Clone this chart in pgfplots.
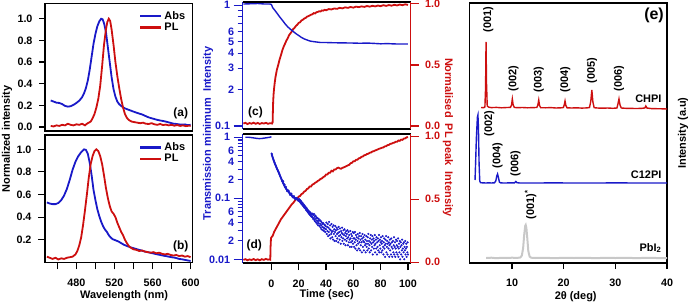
\documentclass[border=0pt]{standalone}
\usepackage{fontspec}
\setmainfont{Liberation Sans}
\usepackage{pgfplots}
\pgfplotsset{compat=1.18}
\definecolor{cb}{RGB}{25,25,200}
\definecolor{cr}{RGB}{205,15,15}
\definecolor{cg}{RGB}{200,200,200}
\newcommand\tf{\bfseries\fontsize{10.8}{12}\selectfont}
\newcommand\lf{\bfseries\fontsize{11}{13}\selectfont}
\pgfplotsset{
  every axis/.append style={
    scale only axis, anchor=south west, clip=false,
    /pgf/number format/assume math mode=true,
    tick label style={font=\tf},
    xticklabel style={yshift=-6bp},
    tick align=outside,
    major tick length=6bp, minor tick length=4bp,
    tick style={line width=1.1bp, black},
    axis line style={line width=1.5bp},
  },
  leg/.style={legend style={draw=none, fill=none, at={(0.965,0.955)}, anchor=north east,
     font=\lf, row sep=-2bp, inner sep=0pt}, legend cell align=left,
  legend image code/.code={\draw[##1, line width=2.4bp] (0bp,0bp) -- (21bp,0bp);}},
}
\begin{document}
\begin{tikzpicture}[x=1bp,y=1bp]
% ---------------- (a)
\begin{axis}[leg, at={(45bp,173bp)}, width=147.5bp, height=127.4bp,
  xmin=447, xmax=602, ymin=-0.037, ymax=1.14, xtick=\empty,
  ytick={0,0.2,0.4,0.6,0.8,1}, yticklabels={0.0,0.2,0.4,0.6,0.8,1.0}, ytick pos=left,
  yticklabel style={xshift=-3bp}]
\addplot[cb, line width=1.8bp] coordinates {
(453,0.245) (456,0.235) (459,0.225) (462,0.222) (465,0.212) (468,0.195) (471,0.188) (474,0.192)
(477,0.205) (480,0.222) (483,0.243) (486,0.275) (488,0.31) (490,0.36) (492,0.43) (494,0.53)
(496,0.65) (498,0.77) (500,0.86) (502,0.93) (504,0.975) (506,1.0) (507.5,0.995) (509,0.96)
(511,0.88) (513,0.74) (515,0.6) (517,0.46) (519,0.35) (521,0.28) (523,0.235) (525,0.21)
(527,0.195) (529,0.182) (531,0.172) (534,0.162) (537,0.152) (540,0.142) (543,0.133) (546,0.124)
(549,0.116) (552,0.104) (555,0.092) (558,0.083) (561,0.076) (564,0.068) (567,0.062) (570,0.057)
(573,0.052) (576,0.045) (579,0.038) (582,0.031) (585,0.028) (588,0.024) (591,0.023) (594,0.024)
(597,0.017) (600,0.02)};
\addlegendentry{Abs}
\addplot[cr, line width=1.8bp] coordinates {
(453,0.01) (456,0.005) (459,0.015) (462,0.01) (465,0.02) (468,0.015) (471,0.03) (474,0.02)
(477,0.015) (480,0.025) (483,0.02) (486,0.03) (489,0.015) (491,0.03) (493,0.04) (495,0.05)
(497,0.08) (499,0.12) (501,0.18) (503,0.26) (505,0.38) (507,0.56) (509,0.76) (511,0.9)
(512.5,0.97) (514,1.0) (515.5,0.98) (517,0.9) (519,0.76) (521,0.6) (523,0.47) (525,0.36)
(527,0.26) (529,0.18) (531,0.12) (533,0.085) (535,0.065) (538,0.05) (541,0.045) (544,0.04)
(547,0.035) (550,0.04) (553,0.03) (556,0.028) (559,0.035) (562,0.025) (565,0.02) (568,0.028)
(571,0.018) (574,0.022) (577,0.015) (580,0.02) (583,0.012) (586,0.018) (589,0.01) (592,0.015)
(595,0.008) (598,0.012) (600,0.01)};
\addlegendentry{PL}
\end{axis}
% ---------------- (b)
\begin{axis}[leg, at={(45bp,41.7bp)}, width=147.5bp, height=127.3bp,
  xmin=447, xmax=602, ymin=0, ymax=1.127,
  xtick={480,520,560,600}, minor xtick={460,500,540,580}, xtick pos=bottom,
  major tick length=7bp, minor tick length=7bp,
  ytick={0.2,0.4,0.6,0.8,1}, yticklabels={0.2,0.4,0.6,0.8,1.0}, ytick pos=left,
  yticklabel style={xshift=-3bp}]
\addplot[cb, line width=1.8bp] coordinates {
(449,0.53) (452,0.52) (455,0.515) (458,0.515) (461,0.525) (464,0.55) (467,0.59) (470,0.65)
(473,0.73) (476,0.82) (479,0.89) (482,0.94) (485,0.975) (488,1.0) (490,0.995) (492,0.96)
(494,0.88) (496,0.77) (498,0.64) (500,0.55) (502,0.47) (504,0.41) (506,0.36) (508,0.32)
(510,0.29) (512,0.27) (514,0.24) (516,0.22) (518,0.205) (521,0.195) (524,0.185) (527,0.17)
(530,0.155) (533,0.145) (536,0.135) (540,0.125) (544,0.115) (548,0.105) (552,0.095) (556,0.088)
(560,0.08) (564,0.072) (568,0.065) (572,0.058) (576,0.052) (580,0.045) (584,0.04) (588,0.03)
(592,0.025) (596,0.018) (600,0.012)};
\addlegendentry{Abs}
\addplot[cr, line width=1.8bp] coordinates {
(449,0.05) (452,0.04) (455,0.03) (458,0.04) (461,0.025) (464,0.035) (467,0.03) (470,0.04)
(473,0.045) (476,0.05) (479,0.07) (481,0.1) (483,0.15) (485,0.22) (487,0.33) (489,0.46)
(491,0.6) (493,0.75) (495,0.87) (497,0.94) (499,0.985) (501,1.0) (503,0.985) (505,0.94)
(507,0.87) (509,0.77) (511,0.66) (513,0.57) (515,0.5) (517,0.45) (519,0.43) (521,0.4)
(523,0.35) (525,0.31) (527,0.27) (529,0.24) (531,0.2) (533,0.17) (535,0.145) (537,0.13)
(540,0.115) (543,0.11) (546,0.1) (549,0.105) (552,0.095) (555,0.09) (558,0.085) (561,0.09)
(564,0.08) (567,0.085) (570,0.075) (573,0.07) (576,0.075) (579,0.065) (582,0.06) (585,0.065)
(588,0.055) (591,0.06) (594,0.05) (597,0.055) (600,0.045)};
\addlegendentry{PL}
\end{axis}
\node[font=\lf, rotate=90] at (7,165) {Normalized intensity};
\node[font=\lf] at (124,8.3) {Wavelength (nm)};
\node[font=\bfseries\fontsize{12}{14}\selectfont] at (180.7,190.7) {(a)};
\node[font=\bfseries\fontsize{12}{14}\selectfont] at (180.7,57.3) {(b)};
% ---------------- (c) right linear (red, drawn first)
\begin{axis}[name=c2, at={(242.7bp,175bp)}, width=168bp, height=127bp,
  xmin=-21, xmax=102, ymin=-0.0246, ymax=1.016, axis line style={draw=none},
  xtick=\empty, ytick={0,0.5,1}, yticklabels={0.0,0.5,1.0}, ytick pos=right,
  yticklabel style={xshift=3bp},
  major tick length=8bp, tick style={cr, line width=1.1bp}, tick label style={font=\tf, text=cr}]
\addplot[cr, line width=1.8bp] coordinates {
(-20.5,0.02) (-19,0.026) (-17.5,0.016) (-16,0.024) (-14.5,0.019) (-13,0.027) (-11.5,0.018)
(-10,0.025) (-8.5,0.017) (-7,0.024) (-5.5,0.02) (-4,0.026) (-2.5,0.018) (-1,0.023) (0.5,0.02)
(0.9,0.03) (1.1,0.12) (1.3,0.2) (1.6,0.26) (2,0.31) (2.5,0.36) (3,0.4) (3.5,0.43) (4,0.46)
(5,0.5) (6,0.545) (7,0.58) (8,0.62) (9,0.65) (10,0.675) (11,0.7) (12,0.72) (13,0.745) (14,0.76)
(15,0.775) (16,0.795) (17,0.805) (18,0.82) (19,0.83) (20,0.845) (21,0.85) (22,0.865) (23,0.87)
(24,0.88) (25,0.885) (26,0.895) (27,0.9) (28,0.905) (29,0.912) (30,0.915) (31,0.925) (32,0.922)
(33,0.932) (34,0.935) (35,0.94) (36,0.938) (37,0.947) (38,0.945) (39,0.952) (40,0.948) (42,0.958)
(44,0.955) (46,0.963) (48,0.96) (50,0.968) (52,0.964) (54,0.972) (56,0.968) (58,0.975) (60,0.97)
(62,0.978) (64,0.974) (66,0.98) (68,0.976) (70,0.983) (72,0.978) (74,0.985) (76,0.98) (78,0.987)
(80,0.982) (82,0.99) (84,0.984) (86,0.991) (88,0.986) (90,0.993) (92,0.988) (94,0.995) (96,0.99)
(98,0.997) (100,0.992)};
\end{axis}
% ---------------- (c) left log (blue)
\begin{axis}[name=c1, at={(242.7bp,175bp)}, width=168bp, height=127bp,
  xmin=-21, xmax=102, ymode=log, ymin=0.0944, ymax=1.06, axis line style={draw=none},
  xtick=\empty, ytick={0.1,1}, yticklabels={0.1,1},
  minor ytick={0.2,0.3,0.4,0.5,0.6,0.7,0.8,0.9},
  extra y ticks={0.2,0.3,0.4,0.5,0.6}, extra y tick labels={2,3,4,5,6},
  extra y tick style={major tick length=5bp},
  ytick pos=left, major tick length=9bp, minor tick length=5bp,
  tick style={cb, line width=1.1bp}, tick label style={font=\tf, text=cb}]
\addplot[cb, line width=1.4bp] coordinates {
(-20.5,1.02) (-15,1.025) (-10,1.03) (-5,1.02) (-1,1.02) (0,1.01) (0.5,0.98) (1,0.95) (2,0.92)
(3,0.89) (4,0.86) (6,0.8) (8,0.75) (10,0.70) (12,0.66) (14,0.63) (16,0.605) (18,0.58) (20,0.56)
(22,0.54) (24,0.525) (26,0.515) (28,0.505) (30,0.5) (33,0.495) (36,0.49) (40,0.49) (45,0.488)
(50,0.487) (55,0.486) (60,0.485) (65,0.483) (70,0.485) (75,0.482) (80,0.478) (85,0.48)
(90,0.477) (95,0.476) (100,0.476)};
\end{axis}
\draw[line width=1.5bp] (c2.south west) -- (c2.south east) (c2.north west) -- (c2.north east);
\draw[line width=1.5bp, cb] (c2.south west) -- (c2.north west);
\draw[line width=1.5bp, cr] (c2.south east) -- (c2.north east);
\node[font=\bfseries\fontsize{12}{14}\selectfont] at (255.5,192) {(c)};
% ---------------- (d) x ticks
\begin{axis}[at={(242.7bp,41bp)}, width=168bp, height=129bp,
  xmin=-21, xmax=102, ymin=0, ymax=1, axis line style={draw=none},
  ytick=\empty, xtick={0,20,40,60,80,100}, xtick pos=bottom, major tick length=7bp]
\addplot[draw=none] coordinates {(0,0)};
\end{axis}
% ---------------- (d) right linear (red)
\begin{axis}[name=d2, at={(242.7bp,41bp)}, width=168bp, height=129bp,
  xmin=-21, xmax=102, ymin=-0.0065, ymax=1.0165, axis line style={draw=none},
  xtick=\empty, ytick={0,0.5,1}, yticklabels={0.0,0.5,1.0}, ytick pos=right,
  yticklabel style={xshift=3bp},
  major tick length=8bp, tick style={cr, line width=1.1bp}, tick label style={font=\tf, text=cr}]
\addplot[cr, line width=1.8bp] coordinates {
(-20.5,0.018) (-19,0.024) (-17.5,0.015) (-16,0.022) (-14.5,0.017) (-13,0.025) (-11.5,0.016)
(-10,0.023) (-8.5,0.015) (-7,0.024) (-5.5,0.018) (-4,0.026) (-2.5,0.02) (-1.2,0.022) (-0.8,0.02)
(-0.6,0.12) (-0.3,0.19) (0.2,0.2) (1,0.21) (1.5,0.225) (2,0.24) (2.5,0.25) (3,0.26) (4,0.28)
(5,0.3) (6,0.32) (7,0.34) (8,0.355) (9,0.37) (10,0.385) (11,0.4) (12,0.415) (13,0.43) (14,0.445)
(15,0.46) (16,0.47) (17,0.485) (18,0.5) (19,0.505) (20,0.52) (21,0.525) (22,0.54) (23,0.545)
(24,0.56) (25,0.565) (26,0.58) (27,0.585) (28,0.6) (29,0.6) (30,0.615) (31,0.62) (32,0.63)
(33,0.635) (34,0.645) (35,0.65) (36,0.66) (37,0.665) (38,0.675) (39,0.68) (40,0.695) (41,0.695)
(42,0.71) (43,0.71) (44,0.725) (45,0.72) (46,0.735) (47,0.735) (48,0.745) (49,0.75) (50,0.744)
(51,0.741) (52,0.748) (53,0.752) (54,0.757) (55,0.762) (56,0.768) (57,0.772) (58,0.785) (59,0.788)
(60,0.8) (61,0.8) (62,0.812) (63,0.812) (64,0.824) (65,0.826) (66,0.836) (67,0.838) (68,0.848)
(69,0.85) (70,0.858) (71,0.86) (72,0.868) (73,0.87) (74,0.878) (75,0.88) (76,0.886) (77,0.89)
(78,0.895) (79,0.9) (80,0.903) (81,0.908) (82,0.91) (83,0.918) (84,0.92) (85,0.928) (86,0.93)
(87,0.938) (88,0.94) (89,0.946) (90,0.948) (91,0.955) (92,0.955) (93,0.965) (94,0.962) (95,0.972)
(96,0.97) (97,0.98) (98,0.982) (99,0.99) (100,0.992)};
\end{axis}
% ---------------- (d) left log (blue)
\begin{axis}[name=d1, at={(242.7bp,41bp)}, width=168bp, height=129bp,
  xmin=-21, xmax=102, ymode=log, ymin=0.0087, ymax=1.13, axis line style={draw=none},
  xtick=\empty, ytick={0.01,0.1,1}, yticklabels={0.01,0.1,1},
  minor ytick={0.02,0.03,0.04,0.05,0.06,0.07,0.08,0.09,0.2,0.3,0.4,0.5,0.6,0.7,0.8,0.9},
  extra y ticks={0.02,0.04,0.06,0.2,0.4,0.6}, extra y tick labels={2,4,6,2,4,6},
  extra y tick style={major tick length=5bp},
  ytick pos=left, major tick length=9bp, minor tick length=5bp,
  tick style={cb, line width=1.1bp}, tick label style={font=\tf, text=cb}]
\addplot[cb, line width=1.4bp] coordinates {
(-19,1.0) (-17,1.0) (-15,0.99) (-13,0.975) (-11,0.96) (-9,0.95) (-7,0.955) (-5,0.97)
(-3,0.985) (-1,1.0) (0,1.02)};
\addplot[cb, only marks, mark=*, mark size=0.85bp, mark options={draw=none, fill=cb}] coordinates {
(0.2,0.54) (0.35,0.52) (0.5,0.5) (0.75,0.48) (1,0.46) (1.25,0.445) (1.5,0.43) (1.75,0.415) (2,0.4)
(2.25,0.385) (2.5,0.375) (2.75,0.36) (3,0.35) (3.25,0.34) (3.5,0.33) (3.75,0.32) (4,0.31)
(4.25,0.3) (4.5,0.292) (4.75,0.283) (5,0.275) (5.25,0.268) (5.5,0.26) (5.75,0.252) (6,0.245)
(6.25,0.237) (6.5,0.23) (6.75,0.222) (7,0.215) (7.25,0.208) (7.5,0.202) (7.75,0.196) (8,0.19)
(8.25,0.186) (8.5,0.18) (8.75,0.175) (9,0.17) (9.25,0.166) (9.5,0.161) (9.75,0.157) (10,0.153)
(10.25,0.15) (10.5,0.147) (10.75,0.144) (11,0.141) (11.25,0.139) (11.5,0.136) (11.75,0.134)
(12,0.132) (12.25,0.13) (12.5,0.128) (12.75,0.126) (13,0.124) (13.25,0.122) (13.5,0.12)
(13.75,0.118) (14,0.117) (14.25,0.115) (14.5,0.114) (14.75,0.112) (15,0.111) (15.25,0.109)
(15.5,0.108) (15.75,0.107) (16,0.106) (16.25,0.104) (16.5,0.103) (16.75,0.102) (17,0.102)
(17.25,0.1) (17.5,0.1) (17.75,0.099) (18,0.099) (18.25,0.097) (18.5,0.097) (18.75,0.096)
(19,0.096) (19.25,0.095) (19.5,0.095) (19.75,0.094) (20,0.094)
(8.6,0.19) (9.6,0.168) (10.6,0.154) (11.6,0.131) (12.6,0.134) (13.6,0.114) (14.6,0.119)
(15.6,0.104) (16.6,0.108) (17.6,0.096) (18.6,0.101) (19.6,0.091)
(20.25,0.097) (20.5,0.089) (20.75,0.095) (21,0.087) (21.25,0.092) (21.5,0.084) (21.75,0.089)
(22,0.081) (22.25,0.086) (22.5,0.079) (22.75,0.084) (23,0.076) (23.25,0.081) (23.5,0.074)
(23.75,0.078) (24,0.071) (24.25,0.076) (24.5,0.069) (24.75,0.073) (25,0.067) (25.25,0.071)
(25.5,0.064) (25.75,0.069) (26,0.062) (26.25,0.066) (26.5,0.06) (26.75,0.064) (27,0.058)
(27.25,0.062) (27.5,0.056) (27.75,0.06) (28,0.054) (28.25,0.059) (28.5,0.053) (28.75,0.057)
(29,0.051) (29.25,0.056) (29.5,0.05) (29.75,0.054) (30,0.049)
(30.25,0.056) (30.5,0.046) (30.75,0.053) (31,0.047) (31.25,0.055) (31.5,0.044) (31.75,0.05)
(32,0.042) (32.25,0.052) (32.5,0.046) (32.75,0.04) (33,0.049) (33.25,0.043) (33.5,0.038)
(33.75,0.047) (34,0.041) (34.25,0.036) (34.5,0.046) (34.75,0.039) (35,0.043) (35.25,0.035)
(35.5,0.044) (35.75,0.038) (36,0.033) (36.25,0.042) (36.5,0.036) (36.75,0.031) (37,0.04)
(37.25,0.034) (37.5,0.038) (37.75,0.03) (38,0.039) (38.25,0.033) (38.5,0.029) (38.75,0.037)
(39,0.032) (39.25,0.036) (39.5,0.028) (39.75,0.035) (40,0.031)
(40.25,0.04) (40.5,0.026) (40.75,0.034) (41,0.029) (41.25,0.038) (41.5,0.024) (41.75,0.033)
(42,0.028) (42.25,0.041) (42.5,0.025) (42.75,0.031) (43,0.036) (43.25,0.022) (43.5,0.03)
(43.75,0.026) (44,0.038) (44.25,0.028) (44.5,0.023) (44.75,0.034) (45,0.029) (45.25,0.021)
(45.5,0.036) (45.75,0.026) (46,0.031) (46.25,0.02) (46.5,0.028) (46.75,0.035) (47,0.024)
(47.25,0.03) (47.5,0.02) (47.75,0.033) (48,0.026) (48.25,0.022) (48.5,0.031) (48.75,0.027)
(49,0.019) (49.25,0.034) (49.5,0.024) (49.75,0.028) (50,0.021) (50.25,0.032) (50.5,0.025)
(50.75,0.018) (51,0.029) (51.25,0.023) (51.5,0.027) (51.75,0.033) (52,0.02) (52.25,0.026)
(52.5,0.022) (52.75,0.03) (53,0.018) (53.25,0.025) (53.5,0.031) (53.75,0.021) (54,0.027)
(54.25,0.017) (54.5,0.024) (54.75,0.029) (55,0.02) (55.25,0.026) (55.5,0.022) (55.75,0.03)
(56,0.017) (56.25,0.023) (56.5,0.028) (56.75,0.019) (57,0.025) (57.25,0.021) (57.5,0.016)
(57.75,0.029) (58,0.022) (58.25,0.019) (58.5,0.026) (58.75,0.016) (59,0.024) (59.25,0.02)
(59.5,0.028) (59.75,0.018) (60,0.022)
(60.25,0.027) (60.5,0.016) (60.75,0.022) (61,0.019) (61.25,0.028) (61.5,0.015) (61.75,0.021)
(62,0.025) (62.25,0.017) (62.5,0.023) (62.75,0.014) (63,0.02) (63.25,0.026) (63.5,0.018)
(63.75,0.022) (64,0.015) (64.25,0.024) (64.5,0.019) (64.75,0.027) (65,0.014) (65.25,0.021)
(65.5,0.017) (65.75,0.024) (66,0.019) (66.25,0.013) (66.5,0.022) (66.75,0.026) (67,0.016)
(67.25,0.02) (67.5,0.023) (67.75,0.014) (68,0.019) (68.25,0.025) (68.5,0.017) (68.75,0.021)
(69,0.013) (69.25,0.018) (69.5,0.024) (69.75,0.016) (70,0.02) (70.25,0.014) (70.5,0.023)
(70.75,0.018) (71,0.026) (71.25,0.015) (71.5,0.02) (71.75,0.017) (72,0.013) (72.25,0.022)
(72.5,0.019) (72.75,0.025) (73,0.014) (73.25,0.018) (73.5,0.021) (73.75,0.016) (74,0.024)
(74.25,0.012) (74.5,0.019) (74.75,0.022) (75,0.015) (75.25,0.02) (75.5,0.017) (75.75,0.025)
(76,0.013) (76.25,0.018) (76.5,0.021) (76.75,0.015) (77,0.023) (77.25,0.012) (77.5,0.019)
(77.75,0.016) (78,0.022) (78.25,0.014) (78.5,0.02) (78.75,0.025) (79,0.013) (79.25,0.017)
(79.5,0.021) (79.75,0.015) (80,0.019)
(80.25,0.023) (80.5,0.013) (80.75,0.018) (81,0.02) (81.25,0.014) (81.5,0.024) (81.75,0.016)
(82,0.012) (82.25,0.019) (82.5,0.022) (82.75,0.015) (83,0.017) (83.25,0.011) (83.5,0.021)
(83.75,0.018) (84,0.024) (84.25,0.013) (84.5,0.016) (84.75,0.02) (85,0.012) (85.25,0.018)
(85.5,0.023) (85.75,0.015) (86,0.019) (86.25,0.011) (86.5,0.017) (86.75,0.021) (87,0.014)
(87.25,0.018) (87.5,0.012) (87.75,0.022) (88,0.016) (88.25,0.019) (88.5,0.011) (88.75,0.015)
(89,0.02) (89.25,0.013) (89.5,0.017) (89.75,0.023) (90,0.012) (90.25,0.016) (90.5,0.019)
(90.75,0.011) (91,0.015) (91.25,0.021) (91.5,0.013) (91.75,0.017) (92,0.02) (92.25,0.012)
(92.5,0.016) (92.75,0.022) (93,0.011) (93.25,0.015) (93.5,0.018) (93.75,0.013) (94,0.02)
(94.25,0.01) (94.5,0.016) (94.75,0.019) (95,0.012) (95.25,0.017) (95.5,0.014) (95.75,0.021)
(96,0.011) (96.25,0.015) (96.5,0.018) (96.75,0.013) (97,0.019) (97.25,0.01) (97.5,0.016)
(97.75,0.014) (98,0.02) (98.25,0.012) (98.5,0.015) (98.75,0.018) (99,0.011) (99.25,0.016)
(99.5,0.013) (99.75,0.019) (100,0.012)};
\end{axis}
\draw[line width=1.5bp] (d2.south west) -- (d2.south east) (d2.north west) -- (d2.north east);
\draw[line width=1.5bp, cb] (d2.south west) -- (d2.north west);
\draw[line width=1.5bp, cr] (d2.south east) -- (d2.north east);
\node[font=\bfseries\fontsize{12}{14}\selectfont] at (254.2,59) {(d)};
\node[font=\lf] at (326.7,9) {Time (sec)};
\node[font=\lf, rotate=90, text=cb] at (208,170.5) {Transmission minimum\ \ Intensity};
\node[font=\lf, rotate=-90, text=cr] at (448,166.5) {Normalised\ \ PL peak\ \ Intensity};
% ---------------- (e)
\begin{axis}[at={(469.5bp,41bp)}, width=197.5bp, height=260bp,
  xmin=1.77, xmax=40, ymin=0, ymax=260, ytick=\empty,
  xtick={10,20,30,40}, xtick pos=bottom, major tick length=6bp]
\addplot[cr, line width=1.4bp] coordinates {
(4.0,155.5) (4.5,155.3) (4.75,156) (4.88,175) (4.97,221) (5.06,180) (5.2,157) (5.5,155.8)
(6,155.4) (7,155.6) (8,155.2) (9,155.5) (9.7,155.6) (9.9,158) (10.06,164) (10.22,158)
(10.45,155.6) (11,155.3) (12,155.5) (13,155.2) (14,155.4) (14.8,155.5) (15,158) (15.17,163)
(15.33,157.5) (15.55,155.3) (16.5,155.2) (17.5,155.4) (18.5,155) (19.5,155.2) (19.95,155.5)
(20.1,158) (20.26,162) (20.42,157.5) (20.65,155.2) (21.5,155) (22.5,155.2) (23.5,154.9)
(24.5,155.1) (25.0,155.5) (25.25,162) (25.45,173) (25.65,161) (25.9,155.3) (26.5,155)
(27.5,154.8) (28.5,155) (29.5,154.7) (30.3,155) (30.5,159) (30.7,164) (30.9,158) (31.15,155)
(32,154.7) (33,154.6) (34,154.5) (35,154.6) (35.7,155) (35.9,157) (36.1,155) (37,154.4)
(38,154.3) (39,154.2) (40,154)};
\addplot[cb, line width=1.4bp] coordinates {
(2.84,83) (2.95,100) (3.1,125) (3.3,146) (3.4,148) (3.5,135) (3.62,100) (3.75,82) (3.9,80.3)
(4.5,80.1) (5,80) (5.5,80.2) (6,80) (6.6,80.2) (6.85,82) (7.05,87) (7.2,89) (7.35,86)
(7.55,81) (7.8,80.1) (8.5,80) (9.5,80.1) (10.5,80.2) (10.75,81.5) (10.95,80.3) (11.5,80)
(14,80) (18,80.1) (22,80) (26,80) (30,80.1) (35,80) (40,80)};
\addplot[cg, line width=2bp] coordinates {
(5,5) (6,5.3) (7,4.8) (8,5.2) (9,5) (10,5.3) (11,5.1) (11.6,5.5) (11.9,7.5) (12.15,15)
(12.35,28) (12.55,37) (12.65,38) (12.78,35) (12.95,25) (13.15,12) (13.4,6.5) (13.7,5.3)
(14.5,5) (16,5.2) (18,4.9) (20,5.1) (22,5) (24,5.2) (26,4.9) (28,5.1) (30,5) (32,5.2)
(34,4.9) (36,5.1) (38,5) (40,5)};
\node[font=\lf, rotate=90, anchor=west] at (axis cs:5.4,227) {(001)};
\node[font=\lf, rotate=90, anchor=west] at (axis cs:10.3,168) {(002)};
\node[font=\lf, rotate=90, anchor=west] at (axis cs:15.2,167) {(003)};
\node[font=\lf, rotate=90, anchor=west] at (axis cs:20.3,167) {(004)};
\node[font=\lf, rotate=90, anchor=west] at (axis cs:25.5,176) {(005)};
\node[font=\lf, rotate=90, anchor=west] at (axis cs:30.7,168) {(006)};
\node[font=\lf, rotate=90, anchor=west] at (axis cs:5.6,123) {(002)};
\node[font=\lf, rotate=90, anchor=west] at (axis cs:7.2,91) {(004)};
\node[font=\lf, rotate=90, anchor=west] at (axis cs:10.7,83) {(006)};
\node[font=\lf, rotate=90, anchor=west] at (axis cs:13.6,40) {(001)\textsuperscript{*}};
\node[font=\lf, anchor=east] at (axis cs:39.6,164) {CHPI};
\node[font=\lf, anchor=east] at (axis cs:39.6,88) {C12PI};
\node[font=\lf, anchor=east] at (axis cs:39.6,15) {PbI\textsubscript{2}};
\end{axis}
\node[font=\bfseries\fontsize{16}{18}\selectfont] at (654,289) {(e)};
\node[font=\lf] at (575.7,7.3) {2θ (deg)};
\node[font=\lf, rotate=90] at (683,171) {Intensity (a.u)};
\pgfresetboundingbox
\path[use as bounding box] (0,0) rectangle (689,304);
\end{tikzpicture}
\end{document}
